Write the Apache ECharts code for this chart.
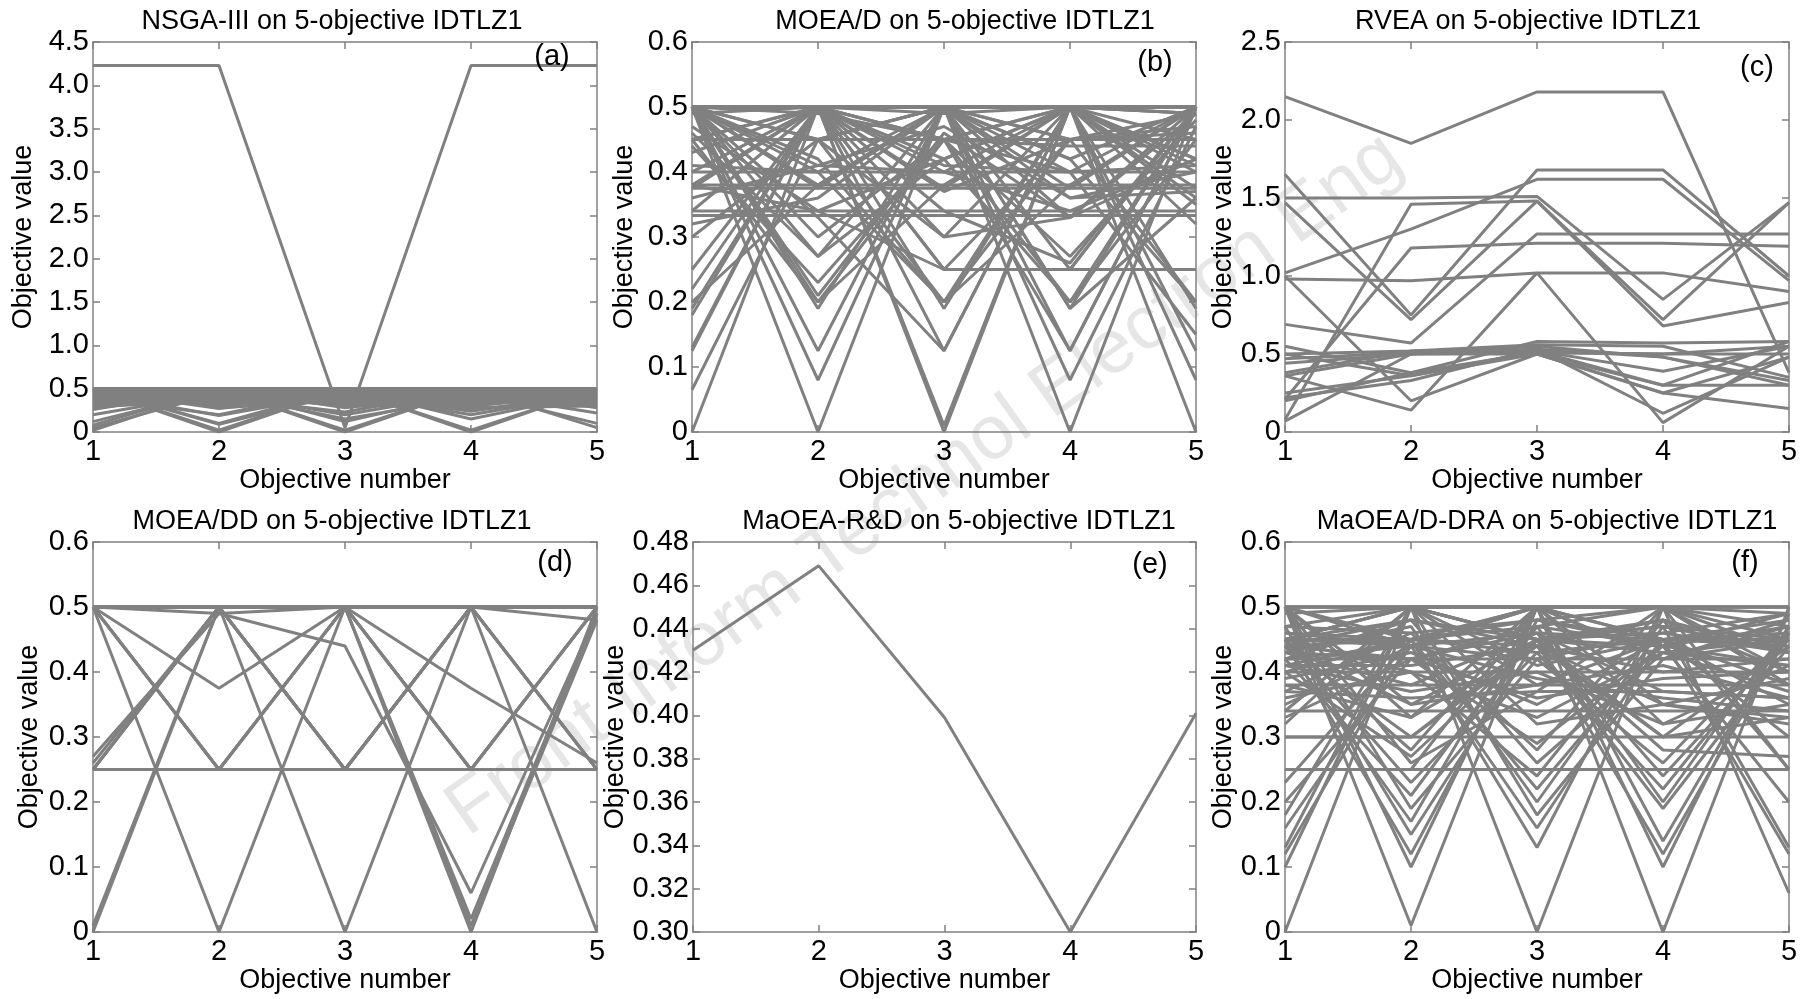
<!DOCTYPE html>
<html>
<head>
<meta charset="utf-8">
<script src="https://cdn.jsdelivr.net/npm/echarts@6/dist/echarts.min.js"></script>
<style>
html,body{margin:0;padding:0;background:#fff;}
#chart{width:1812px;height:999px;}
</style>
</head>
<body>
<div id="chart"></div>
<script>
// ---------------- DATA ----------------
const objectives = [1, 2, 3, 4, 5];
const xTickLabels = ['1', '2', '3', '4', '5'];
const xAxisName = 'Objective number';
const yAxisName = 'Objective value';
const titles = [
  'NSGA-III on 5-objective IDTLZ1',
  'MOEA/D on 5-objective IDTLZ1',
  'RVEA on 5-objective IDTLZ1',
  'MOEA/DD on 5-objective IDTLZ1',
  'MaOEA-R&D on 5-objective IDTLZ1',
  'MaOEA/D-DRA on 5-objective IDTLZ1'
];
const panelTags = ['(a)', '(b)', '(c)', '(d)', '(e)', '(f)'];
const watermark = 'Front Inform Technol Electron Eng';

const yLabelsA = ['0', '0.5', '1.0', '1.5', '2.0', '2.5', '3.0', '3.5', '4.0', '4.5'];
const yLabelsB = ['0', '0.1', '0.2', '0.3', '0.4', '0.5', '0.6'];
const yLabelsC = ['0', '0.5', '1.0', '1.5', '2.0', '2.5'];
const yLabelsD = ['0', '0.1', '0.2', '0.3', '0.4', '0.5', '0.6'];
const yLabelsE = ['0.30', '0.32', '0.34', '0.36', '0.38', '0.40', '0.42', '0.44', '0.46', '0.48'];
const yLabelsF = ['0', '0.1', '0.2', '0.3', '0.4', '0.5', '0.6'];

// (a) NSGA-III
const nsga3Lines = [
  [4.23, 4.23, 0.05, 4.23, 4.23],
  [0.5, 0.5, 0.5, 0.5, 0.5],
  [0.5, 0.0, 0.5, 0.5, 0.5],
  [0.5, 0.02, 0.5, 0.5, 0.48],
  [0.5, 0.5, 0.0, 0.5, 0.5],
  [0.48, 0.5, 0.02, 0.5, 0.5],
  [0.5, 0.5, 0.5, 0.0, 0.5],
  [0.5, 0.49, 0.5, 0.02, 0.5],
  [0.02, 0.5, 0.5, 0.5, 0.48],
  [0.05, 0.45, 0.5, 0.5, 0.5],
  [0.08, 0.5, 0.45, 0.5, 0.47],
  [0.12, 0.48, 0.5, 0.42, 0.5],
  [0.2, 0.45, 0.4, 0.5, 0.45],
  [0.3, 0.4, 0.45, 0.4, 0.45],
  [0.5, 0.1, 0.5, 0.45, 0.45],
  [0.45, 0.19, 0.45, 0.45, 0.45],
  [0.4, 0.2, 0.5, 0.4, 0.5],
  [0.5, 0.09, 0.45, 0.47, 0.49],
  [0.45, 0.5, 0.12, 0.45, 0.48],
  [0.47, 0.45, 0.2, 0.45, 0.43],
  [0.5, 0.45, 0.15, 0.4, 0.5],
  [0.45, 0.45, 0.5, 0.15, 0.45],
  [0.4, 0.5, 0.45, 0.2, 0.45],
  [0.5, 0.42, 0.5, 0.28, 0.3],
  [0.5, 0.5, 0.45, 0.5, 0.05],
  [0.45, 0.5, 0.5, 0.45, 0.1],
  [0.43, 0.45, 0.45, 0.45, 0.22],
  [0.38, 0.45, 0.5, 0.36, 0.3],
  [0.35, 0.4, 0.38, 0.45, 0.42],
  [0.42, 0.38, 0.4, 0.42, 0.38],
  [0.45, 0.42, 0.42, 0.36, 0.35],
  [0.33, 0.45, 0.36, 0.45, 0.41],
  [0.28, 0.42, 0.45, 0.38, 0.47],
  [0.4, 0.35, 0.44, 0.43, 0.38],
  [0.36, 0.48, 0.35, 0.4, 0.41],
  [0.47, 0.35, 0.48, 0.33, 0.37],
  [0.44, 0.46, 0.4, 0.35, 0.35],
  [0.39, 0.43, 0.33, 0.47, 0.38],
  [0.5, 0.38, 0.46, 0.26, 0.4],
  [0.46, 0.4, 0.23, 0.5, 0.41],
  [0.41, 0.47, 0.43, 0.24, 0.45],
  [0.26, 0.5, 0.42, 0.43, 0.39],
  [0.48, 0.27, 0.43, 0.44, 0.38],
  [0.34, 0.44, 0.47, 0.39, 0.36],
  [0.43, 0.33, 0.39, 0.48, 0.37],
  [0.5, 0.45, 0.5, 0.45, 0.5],
  [0.45, 0.5, 0.45, 0.5, 0.45],
  [0.48, 0.4, 0.48, 0.4, 0.48],
  [0.4, 0.48, 0.4, 0.48, 0.4],
  [0.5, 0.32, 0.5, 0.32, 0.5],
  [0.32, 0.5, 0.32, 0.5, 0.32],
  [0.44, 0.3, 0.44, 0.44, 0.3],
  [0.3, 0.44, 0.3, 0.3, 0.44],
  [0.37, 0.37, 0.47, 0.47, 0.37],
  [0.47, 0.47, 0.37, 0.37, 0.47],
  [0.5, 0.28, 0.36, 0.5, 0.46],
  [0.36, 0.5, 0.28, 0.44, 0.5],
  [0.42, 0.34, 0.5, 0.3, 0.44],
  [0.49, 0.44, 0.3, 0.49, 0.28],
  [0.29, 0.36, 0.49, 0.44, 0.5]
];

// (b) MOEA/D
const moeadLines = [
  [0.5, 0.5, 0.5, 0.5, 0.5],
  [0.49, 0.5, 0.49, 0.5, 0.49],
  [0.4, 0.4, 0.4, 0.4, 0.4],
  [0.38, 0.38, 0.38, 0.38, 0.38],
  [0.375, 0.375, 0.375, 0.375, 0.375],
  [0.34, 0.34, 0.34, 0.34, 0.34],
  [0.333, 0.333, 0.333, 0.333, 0.333],
  [0.5, 0.0, 0.5, 0.5, 0.5],
  [0.0, 0.5, 0.5, 0.5, 0.5],
  [0.5, 0.5, 0.0, 0.5, 0.5],
  [0.5, 0.5, 0.5, 0.0, 0.5],
  [0.5, 0.5, 0.5, 0.5, 0.0],
  [0.5, 0.5, 0.01, 0.5, 0.49],
  [0.5, 0.125, 0.5, 0.5, 0.375],
  [0.375, 0.5, 0.125, 0.5, 0.5],
  [0.5, 0.375, 0.5, 0.125, 0.5],
  [0.5, 0.5, 0.375, 0.5, 0.125],
  [0.125, 0.5, 0.5, 0.375, 0.5],
  [0.5, 0.08, 0.5, 0.45, 0.47],
  [0.45, 0.5, 0.5, 0.08, 0.47],
  [0.065, 0.45, 0.5, 0.5, 0.49],
  [0.5, 0.49, 0.45, 0.5, 0.08],
  [0.5, 0.19, 0.5, 0.4, 0.41],
  [0.4, 0.5, 0.19, 0.5, 0.41],
  [0.41, 0.4, 0.5, 0.19, 0.5],
  [0.5, 0.41, 0.4, 0.5, 0.19],
  [0.19, 0.5, 0.41, 0.4, 0.5],
  [0.5, 0.2, 0.38, 0.5, 0.42],
  [0.2, 0.38, 0.5, 0.42, 0.5],
  [0.5, 0.42, 0.2, 0.38, 0.5],
  [0.38, 0.5, 0.42, 0.2, 0.5],
  [0.5, 0.38, 0.5, 0.42, 0.2],
  [0.18, 0.5, 0.5, 0.5, 0.32],
  [0.5, 0.27, 0.5, 0.36, 0.37],
  [0.44, 0.23, 0.45, 0.44, 0.44],
  [0.5, 0.5, 0.25, 0.25, 0.5],
  [0.3, 0.45, 0.5, 0.25, 0.5],
  [0.22, 0.5, 0.37, 0.45, 0.46],
  [0.5, 0.21, 0.46, 0.33, 0.5],
  [0.45, 0.5, 0.25, 0.25, 0.25],
  [0.47, 0.34, 0.25, 0.45, 0.49],
  [0.32, 0.36, 0.5, 0.33, 0.49],
  [0.5, 0.45, 0.3, 0.33, 0.42],
  [0.36, 0.41, 0.47, 0.36, 0.4],
  [0.25, 0.5, 0.3, 0.5, 0.45],
  [0.5, 0.3, 0.45, 0.27, 0.48],
  [0.13, 0.5, 0.45, 0.5, 0.42],
  [0.43, 0.5, 0.45, 0.125, 0.5],
  [0.5, 0.33, 0.125, 0.5, 0.5],
  [0.5, 0.5, 0.45, 0.4, 0.15],
  [0.46, 0.27, 0.42, 0.5, 0.35],
  [0.4, 0.5, 0.34, 0.26, 0.5],
  [0.38, 0.34, 0.42, 0.5, 0.36],
  [0.5, 0.4, 0.2, 0.5, 0.4],
  [0.34, 0.5, 0.4, 0.34, 0.42],
  [0.5, 0.45, 0.5, 0.19, 0.36],
  [0.45, 0.45, 0.2, 0.45, 0.45],
  [0.45, 0.2, 0.45, 0.45, 0.45],
  [0.45, 0.45, 0.45, 0.2, 0.45],
  [0.5, 0.5, 0.5, 0.45, 0.2]
];

// (c) RVEA
const rveaLines = [
  [2.15, 1.85, 2.18, 2.18, 0.38],
  [1.02, 1.30, 1.62, 1.62, 0.97],
  [1.65, 0.75, 1.68, 1.68, 1.0],
  [1.47, 0.72, 1.48, 0.72, 1.47],
  [1.50, 1.50, 1.51, 0.85, 1.47],
  [0.08, 1.46, 1.48, 0.68, 0.83],
  [0.21, 1.18, 1.21, 1.21, 1.19],
  [0.69, 0.57, 1.27, 1.27, 1.27],
  [0.98, 0.97, 1.02, 1.02, 0.90],
  [1.0, 0.2, 0.5, 0.25, 0.48],
  [0.36, 0.14, 1.02, 0.06, 0.55],
  [0.55, 0.38, 0.58, 0.57, 0.58],
  [0.5, 0.52, 0.56, 0.55, 0.35],
  [0.47, 0.51, 0.53, 0.48, 0.33],
  [0.44, 0.50, 0.51, 0.5, 0.5],
  [0.38, 0.52, 0.52, 0.39, 0.55],
  [0.25, 0.36, 0.5, 0.3, 0.3],
  [0.22, 0.33, 0.53, 0.12, 0.48],
  [0.07, 0.5, 0.5, 0.25, 0.15],
  [0.36, 0.5, 0.55, 0.48, 0.3],
  [0.2, 0.38, 0.51, 0.5, 0.55],
  [0.5, 0.36, 0.52, 0.3, 0.58]
];

// (d) MOEA/DD
const moeaddLines = [
  [0.5, 0.5, 0.5, 0.5, 0.0],
  [0.5, 0.5, 0.5, 0.0, 0.5],
  [0.5, 0.5, 0.0, 0.5, 0.5],
  [0.5, 0.0, 0.5, 0.5, 0.5],
  [0.0, 0.5, 0.5, 0.5, 0.5],
  [0.5, 0.5, 0.5, 0.25, 0.25],
  [0.5, 0.5, 0.25, 0.5, 0.25],
  [0.5, 0.5, 0.25, 0.25, 0.5],
  [0.5, 0.25, 0.5, 0.5, 0.25],
  [0.5, 0.25, 0.5, 0.25, 0.5],
  [0.5, 0.25, 0.25, 0.5, 0.5],
  [0.25, 0.5, 0.5, 0.5, 0.25],
  [0.25, 0.5, 0.5, 0.25, 0.5],
  [0.25, 0.5, 0.25, 0.5, 0.5],
  [0.25, 0.25, 0.5, 0.5, 0.5],
  [0.27, 0.49, 0.5, 0.02, 0.49],
  [0.01, 0.5, 0.5, 0.5, 0.48],
  [0.5, 0.375, 0.5, 0.5, 0.5],
  [0.5, 0.49, 0.44, 0.06, 0.49],
  [0.5, 0.5, 0.5, 0.375, 0.26],
  [0.5, 0.5, 0.5, 0.01, 0.48],
  [0.26, 0.5, 0.25, 0.5, 0.5]
];

// (e) MaOEA-R&D
const maoeaRDLines = [
  [0.430, 0.469, 0.399, 0.300, 0.401]
];

// (f) MaOEA/D-DRA
const maoeaDDRALines = [
  [0.5, 0.5, 0.5, 0.5, 0.5],
  [0.0, 0.5, 0.5, 0.5, 0.5],
  [0.5, 0.01, 0.5, 0.5, 0.49],
  [0.5, 0.5, 0.0, 0.5, 0.5],
  [0.49, 0.5, 0.5, 0.0, 0.5],
  [0.5, 0.5, 0.5, 0.5, 0.06],
  [0.1, 0.5, 0.5, 0.45, 0.45],
  [0.12, 0.45, 0.5, 0.5, 0.43],
  [0.13, 0.5, 0.45, 0.47, 0.45],
  [0.16, 0.44, 0.5, 0.42, 0.48],
  [0.18, 0.5, 0.41, 0.45, 0.46],
  [0.2, 0.42, 0.47, 0.44, 0.47],
  [0.23, 0.45, 0.44, 0.48, 0.4],
  [0.25, 0.25, 0.5, 0.5, 0.5],
  [0.3, 0.3, 0.45, 0.46, 0.49],
  [0.5, 0.1, 0.5, 0.45, 0.45],
  [0.45, 0.12, 0.48, 0.5, 0.45],
  [0.47, 0.15, 0.45, 0.44, 0.49],
  [0.44, 0.17, 0.5, 0.42, 0.47],
  [0.5, 0.19, 0.42, 0.46, 0.43],
  [0.42, 0.21, 0.47, 0.5, 0.4],
  [0.45, 0.23, 0.43, 0.45, 0.44],
  [0.4, 0.27, 0.45, 0.43, 0.45],
  [0.44, 0.3, 0.44, 0.4, 0.42],
  [0.45, 0.45, 0.13, 0.5, 0.47],
  [0.5, 0.44, 0.16, 0.45, 0.45],
  [0.45, 0.5, 0.18, 0.42, 0.45],
  [0.43, 0.47, 0.2, 0.47, 0.43],
  [0.4, 0.45, 0.22, 0.45, 0.48],
  [0.45, 0.4, 0.24, 0.48, 0.43],
  [0.42, 0.48, 0.26, 0.43, 0.41],
  [0.44, 0.42, 0.29, 0.44, 0.41],
  [0.46, 0.45, 0.5, 0.1, 0.49],
  [0.47, 0.5, 0.45, 0.12, 0.46],
  [0.45, 0.44, 0.5, 0.14, 0.47],
  [0.45, 0.48, 0.44, 0.19, 0.44],
  [0.41, 0.45, 0.47, 0.2, 0.47],
  [0.44, 0.45, 0.43, 0.22, 0.46],
  [0.43, 0.42, 0.46, 0.24, 0.45],
  [0.42, 0.44, 0.42, 0.26, 0.46],
  [0.41, 0.41, 0.44, 0.3, 0.44],
  [0.5, 0.45, 0.48, 0.45, 0.12],
  [0.45, 0.5, 0.45, 0.47, 0.13],
  [0.47, 0.46, 0.48, 0.44, 0.2],
  [0.44, 0.48, 0.45, 0.48, 0.25],
  [0.46, 0.44, 0.46, 0.45, 0.3],
  [0.25, 0.25, 0.25, 0.25, 0.25],
  [0.38, 0.38, 0.38, 0.38, 0.38],
  [0.4, 0.4, 0.4, 0.4, 0.4],
  [0.34, 0.34, 0.34, 0.34, 0.34],
  [0.37, 0.36, 0.37, 0.37, 0.36],
  [0.42, 0.42, 0.42, 0.42, 0.42],
  [0.3, 0.3, 0.3, 0.3, 0.3],
  [0.44, 0.35, 0.38, 0.41, 0.36],
  [0.33, 0.42, 0.36, 0.39, 0.4],
  [0.38, 0.33, 0.44, 0.35, 0.39],
  [0.36, 0.4, 0.33, 0.43, 0.37],
  [0.41, 0.37, 0.4, 0.32, 0.41],
  [0.35, 0.44, 0.39, 0.36, 0.34],
  [0.5, 0.35, 0.45, 0.3, 0.33],
  [0.45, 0.5, 0.32, 0.35, 0.32],
  [0.32, 0.5, 0.38, 0.45, 0.35],
  [0.5, 0.5, 0.45, 0.28, 0.27],
  [0.45, 0.28, 0.5, 0.5, 0.25],
  [0.37, 0.46, 0.28, 0.5, 0.38],
  [0.5, 0.26, 0.37, 0.5, 0.38],
  [0.34, 0.5, 0.5, 0.32, 0.35],
  [0.5, 0.33, 0.5, 0.35, 0.33],
  [0.43, 0.38, 0.46, 0.37, 0.36],
  [0.39, 0.43, 0.35, 0.45, 0.38]
];

// ---------------- LAYOUT / STYLE ----------------
const FONT = "'Liberation Sans', Arial, Helvetica, sans-serif";
const LINE_COLOR = '#808080';
const AXIS_COLOR = '#808080';
const PLOT_H = 390;
const TICK_FS = 29, NAME_FS = 27, TITLE_FS = 27, TAG_FS = 29;

const panels = [
  { lines: nsga3Lines,     yLabels: yLabelsA, left: 93,   top: 42,  width: 504, nameGap: 56, titleX: 332,  titleY: 22,  tagX: 552,  tagY: 57 },
  { lines: moeadLines,     yLabels: yLabelsB, left: 692,  top: 42,  width: 504, nameGap: 54, titleX: 965,  titleY: 22,  tagX: 1155, tagY: 63 },
  { lines: rveaLines,      yLabels: yLabelsC, left: 1285, top: 42,  width: 504, nameGap: 45, titleX: 1528, titleY: 22,  tagX: 1757, tagY: 68 },
  { lines: moeaddLines,    yLabels: yLabelsD, left: 93,   top: 542, width: 504, nameGap: 50, titleX: 332,  titleY: 522, tagX: 555,  tagY: 563 },
  { lines: maoeaRDLines,   yLabels: yLabelsE, left: 693,  top: 542, width: 503, nameGap: 61, titleX: 959,  titleY: 522, tagX: 1150, tagY: 565 },
  { lines: maoeaDDRALines, yLabels: yLabelsF, left: 1285, top: 542, width: 504, nameGap: 47, titleX: 1547, titleY: 522, tagX: 1745, tagY: 563 }
];

function labelFor(labels, v) {
  for (const l of labels) { if (Math.abs(parseFloat(l) - v) < 1e-6) return l; }
  return '';
}

const grids = [], xAxes = [], yAxes = [], series = [], graphics = [];
const axisLineStyle = { show: true, onZero: false, lineStyle: { color: AXIS_COLOR, width: 1.5 } };
const tickStyle = { show: true, inside: true, length: 7, lineStyle: { color: AXIS_COLOR, width: 1.5 } };

panels.forEach((p, i) => {
  grids.push({ left: p.left, top: p.top, width: p.width, height: PLOT_H, containLabel: false });
  const yMin = parseFloat(p.yLabels[0]);
  const yMax = parseFloat(p.yLabels[p.yLabels.length - 1]);
  const yInt = parseFloat((parseFloat(p.yLabels[1]) - yMin).toFixed(6));
  const xMin = objectives[0], xMax = objectives[objectives.length - 1];

  xAxes.push({
    gridIndex: i, type: 'value', position: 'bottom', min: xMin, max: xMax, interval: 1,
    axisLine: axisLineStyle, axisTick: tickStyle, splitLine: { show: false },
    axisLabel: { fontSize: TICK_FS, color: '#000', fontFamily: FONT, margin: 5,
      formatter: v => xTickLabels[objectives.indexOf(v)] || '' },
    name: xAxisName, nameLocation: 'middle', nameGap: 35,
    nameTextStyle: { fontSize: NAME_FS, color: '#000', fontFamily: FONT }
  });
  xAxes.push({
    gridIndex: i, type: 'value', position: 'top', min: xMin, max: xMax, interval: 1,
    axisLine: axisLineStyle, axisTick: tickStyle, splitLine: { show: false },
    axisLabel: { show: false }
  });
  yAxes.push({
    gridIndex: i, type: 'value', position: 'left', min: yMin, max: yMax, interval: yInt,
    axisLine: axisLineStyle, axisTick: tickStyle, splitLine: { show: false },
    axisLabel: { fontSize: TICK_FS, color: '#000', fontFamily: FONT, margin: 4,
      formatter: v => labelFor(p.yLabels, v) },
    name: yAxisName, nameLocation: 'middle', nameGap: p.nameGap,
    nameTextStyle: { fontSize: NAME_FS, color: '#000', fontFamily: FONT }
  });
  yAxes.push({
    gridIndex: i, type: 'value', position: 'right', min: yMin, max: yMax, interval: yInt,
    axisLine: axisLineStyle, axisTick: tickStyle, splitLine: { show: false },
    axisLabel: { show: false }
  });

  p.lines.forEach(line => {
    series.push({
      type: 'line', xAxisIndex: 2 * i, yAxisIndex: 2 * i,
      data: line.map((v, k) => [objectives[k], v]),
      symbol: 'none', silent: true, animation: false,
      lineStyle: { color: LINE_COLOR, width: 3 }, z: 3
    });
  });

  graphics.push({
    type: 'text', x: p.titleX, y: p.titleY, z: 100,
    style: { text: titles[i], font: TITLE_FS + 'px ' + FONT, fill: '#000', align: 'center', verticalAlign: 'middle' }
  });
  graphics.push({
    type: 'text', x: p.tagX, y: p.tagY, z: 100,
    style: { text: panelTags[i], font: TAG_FS + 'px ' + FONT, fill: '#000', align: 'center', verticalAlign: 'middle' }
  });
});

graphics.unshift({
  type: 'text', x: 925, y: 485, rotation: 0.62, z: -10,
  style: { text: watermark, font: '76px ' + FONT, fill: '#e6e6e6', align: 'center', verticalAlign: 'middle' }
});

const chart = echarts.init(document.getElementById('chart'), null, { renderer: 'canvas' });
chart.setOption({
  backgroundColor: '#ffffff',
  animation: false,
  grid: grids,
  xAxis: xAxes,
  yAxis: yAxes,
  series: series,
  graphic: { elements: graphics }
});
</script>
</body>
</html>
